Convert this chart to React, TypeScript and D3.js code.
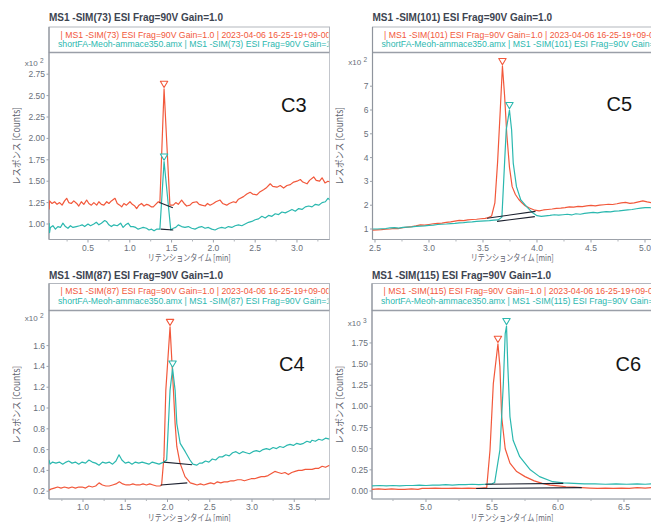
import React from 'react';
import * as d3 from 'd3';

type Pt = [number, number];

// C3 : MS1 -SIM(73), response x10^2
const c3Red: Pt[] = [[0.035,1.17],[0.04,1.27],[0.07,1.24],[0.10,1.26],[0.13,1.23],[0.16,1.25],[0.19,1.22],[0.22,1.27],[0.245,1.30],[0.27,1.25],[0.30,1.24],[0.33,1.27],[0.365,1.24],[0.39,1.21],[0.42,1.26],[0.45,1.23],[0.484,1.28],[0.51,1.24],[0.54,1.22],[0.57,1.25],[0.604,1.22],[0.63,1.26],[0.66,1.23],[0.69,1.22],[0.724,1.26],[0.75,1.24],[0.78,1.27],[0.823,1.30],[0.85,1.24],[0.88,1.22],[0.903,1.20],[0.93,1.24],[0.96,1.22],[1.002,1.26],[1.03,1.23],[1.06,1.21],[1.082,1.18],[1.11,1.22],[1.14,1.24],[1.17,1.21],[1.202,1.23],[1.23,1.22],[1.26,1.20],[1.281,1.20],[1.31,1.23],[1.341,1.26],[1.36,1.25],[1.41,2.58],[1.48,1.22],[1.52,1.22],[1.55,1.25],[1.58,1.23],[1.62,1.28],[1.65,1.24],[1.68,1.21],[1.72,1.22],[1.75,1.25],[1.80,1.26],[1.83,1.23],[1.86,1.22],[1.90,1.21],[1.93,1.24],[1.96,1.22],[2.0,1.24],[2.03,1.26],[2.08,1.28],[2.11,1.24],[2.16,1.22],[2.19,1.24],[2.24,1.26],[2.27,1.25],[2.30,1.29],[2.36,1.32],[2.40,1.35],[2.44,1.37],[2.47,1.35],[2.52,1.34],[2.55,1.37],[2.60,1.40],[2.63,1.42],[2.68,1.47],[2.71,1.44],[2.76,1.43],[2.80,1.45],[2.84,1.42],[2.88,1.45],[2.92,1.46],[2.96,1.49],[3.00,1.50],[3.04,1.52],[3.07,1.49],[3.12,1.47],[3.15,1.51],[3.20,1.55],[3.23,1.51],[3.27,1.50],[3.30,1.54],[3.335,1.48],[3.37,1.50],[3.395,1.49]];
const c3Cyan: Pt[] = [[0.035,1.01],[0.04,0.90],[0.05,0.96],[0.08,0.98],[0.11,0.94],[0.14,0.97],[0.17,0.96],[0.20,1.01],[0.23,0.97],[0.26,0.95],[0.29,0.98],[0.32,0.96],[0.36,0.97],[0.40,0.98],[0.43,0.99],[0.46,0.97],[0.50,1.00],[0.53,0.98],[0.57,1.00],[0.60,1.02],[0.63,0.99],[0.66,1.01],[0.70,1.04],[0.72,1.03],[0.75,0.99],[0.78,0.97],[0.81,0.99],[0.85,0.98],[0.89,1.01],[0.92,0.96],[0.95,0.99],[0.98,1.01],[1.01,0.97],[1.04,0.97],[1.07,0.96],[1.10,0.94],[1.13,0.95],[1.16,0.96],[1.20,0.95],[1.23,0.93],[1.26,0.94],[1.29,0.92],[1.32,0.94],[1.36,0.94],[1.41,1.73],[1.49,0.93],[1.52,0.95],[1.55,0.96],[1.58,0.99],[1.62,0.97],[1.66,0.96],[1.70,0.97],[1.74,0.95],[1.78,0.94],[1.82,0.96],[1.86,0.97],[1.90,0.95],[1.94,0.96],[1.98,0.94],[2.02,0.93],[2.06,0.95],[2.10,0.96],[2.14,0.95],[2.18,0.97],[2.22,0.96],[2.26,0.98],[2.30,0.99],[2.34,0.98],[2.38,1.00],[2.42,1.02],[2.46,1.03],[2.50,1.05],[2.54,1.06],[2.58,1.09],[2.62,1.07],[2.66,1.10],[2.70,1.09],[2.74,1.12],[2.78,1.11],[2.82,1.14],[2.86,1.13],[2.90,1.15],[2.94,1.17],[2.98,1.15],[3.02,1.18],[3.06,1.17],[3.10,1.20],[3.14,1.21],[3.18,1.20],[3.22,1.23],[3.26,1.22],[3.30,1.25],[3.34,1.26],[3.37,1.30],[3.395,1.28]];
const c3RedBase: Pt[] = [[1.355, 1.25], [1.515, 1.19]];
const c3CyanBase: Pt[] = [[1.37, 0.94], [1.52, 0.93]];
const c3XTicks = [0.5, 1.0, 1.5, 2.0, 2.5, 3.0];
const c3YTicks = [1.0, 1.25, 1.5, 1.75, 2.0, 2.25, 2.5, 2.75];

// C5 : MS1 -SIM(101), response x10^2
const c5Red: Pt[] = [[2.477,0.95],[2.52,0.96],[2.56,0.97],[2.60,0.99],[2.64,1.00],[2.68,1.03],[2.72,1.02],[2.76,1.06],[2.80,1.08],[2.84,1.10],[2.88,1.13],[2.92,1.17],[2.96,1.16],[3.00,1.19],[3.04,1.22],[3.08,1.24],[3.12,1.25],[3.16,1.28],[3.20,1.30],[3.24,1.33],[3.28,1.36],[3.32,1.35],[3.36,1.38],[3.40,1.40],[3.44,1.41],[3.48,1.43],[3.52,1.45],[3.55,1.48],[3.58,1.55],[3.61,2.1],[3.635,3.8],[3.66,6.0],[3.68,7.85],[3.70,6.6],[3.72,5.0],[3.745,3.6],[3.77,2.78],[3.80,2.45],[3.83,2.25],[3.86,2.1],[3.89,1.98],[3.93,1.88],[3.98,1.79],[4.02,1.76],[4.06,1.80],[4.10,1.82],[4.14,1.84],[4.18,1.87],[4.22,1.88],[4.26,1.90],[4.30,1.93],[4.34,1.92],[4.38,1.95],[4.42,1.94],[4.46,1.97],[4.50,1.99],[4.54,1.97],[4.58,2.00],[4.62,2.02],[4.66,2.04],[4.70,2.03],[4.74,2.06],[4.78,2.10],[4.82,2.12],[4.86,2.08],[4.90,2.10],[4.94,2.14],[4.98,2.18],[5.02,2.14],[5.065,2.10]];
const c5Cyan: Pt[] = [[2.477,1.00],[2.52,1.00],[2.56,1.01],[2.60,1.02],[2.64,1.05],[2.68,1.06],[2.72,1.04],[2.76,1.07],[2.80,1.08],[2.84,1.09],[2.88,1.11],[2.92,1.12],[2.96,1.13],[3.00,1.15],[3.04,1.16],[3.08,1.19],[3.12,1.20],[3.16,1.21],[3.20,1.23],[3.24,1.24],[3.28,1.26],[3.32,1.27],[3.36,1.29],[3.40,1.30],[3.44,1.32],[3.48,1.33],[3.52,1.34],[3.56,1.35],[3.60,1.37],[3.64,1.38],[3.675,1.5],[3.70,3.8],[3.715,5.16],[3.745,6.0],[3.765,5.16],[3.78,3.77],[3.81,2.78],[3.85,2.22],[3.91,1.91],[3.96,1.68],[4.00,1.56],[4.04,1.53],[4.08,1.55],[4.12,1.57],[4.16,1.60],[4.20,1.58],[4.24,1.60],[4.28,1.62],[4.32,1.59],[4.36,1.64],[4.40,1.62],[4.44,1.66],[4.48,1.68],[4.52,1.70],[4.56,1.68],[4.60,1.71],[4.64,1.73],[4.68,1.72],[4.72,1.75],[4.76,1.76],[4.80,1.78],[4.84,1.80],[4.88,1.82],[4.92,1.85],[4.96,1.88],[5.00,1.90],[5.04,1.90],[5.065,1.89]];
const c5RedBase: Pt[] = [[3.537, 1.45], [3.986, 1.74]];
const c5CyanBase: Pt[] = [[3.63, 1.32], [3.98, 1.52]];
const c5XTicks = [2.5, 3.0, 3.5, 4.0, 4.5, 5.0];
const c5YTicks = [1, 2, 3, 4, 5, 6, 7];

// C4 : MS1 -SIM(87), response x10^2
const c4Red: Pt[] = [[0.598,0.21],[0.62,0.22],[0.66,0.23],[0.70,0.24],[0.74,0.23],[0.78,0.24],[0.83,0.23],[0.87,0.24],[0.91,0.23],[0.95,0.24],[0.99,0.24],[1.03,0.23],[1.07,0.25],[1.11,0.24],[1.15,0.25],[1.19,0.28],[1.23,0.26],[1.27,0.25],[1.31,0.25],[1.35,0.26],[1.39,0.27],[1.43,0.29],[1.47,0.27],[1.51,0.26],[1.55,0.26],[1.59,0.27],[1.63,0.26],[1.67,0.26],[1.71,0.27],[1.75,0.26],[1.79,0.27],[1.83,0.26],[1.87,0.25],[1.91,0.25],[1.93,0.26],[1.958,0.53],[1.98,1.17],[2.03,1.78],[2.07,1.17],[2.09,0.85],[2.11,0.63],[2.148,0.47],[2.207,0.34],[2.27,0.28],[2.31,0.27],[2.35,0.26],[2.39,0.27],[2.43,0.26],[2.47,0.27],[2.51,0.28],[2.55,0.27],[2.59,0.29],[2.63,0.28],[2.67,0.29],[2.71,0.29],[2.75,0.30],[2.79,0.30],[2.83,0.31],[2.87,0.31],[2.91,0.30],[2.95,0.31],[2.99,0.32],[3.03,0.32],[3.07,0.33],[3.11,0.34],[3.15,0.34],[3.19,0.35],[3.23,0.37],[3.27,0.39],[3.31,0.38],[3.35,0.37],[3.39,0.38],[3.43,0.36],[3.47,0.38],[3.51,0.39],[3.55,0.40],[3.59,0.40],[3.63,0.41],[3.67,0.41],[3.71,0.41],[3.75,0.42],[3.79,0.42],[3.83,0.44],[3.87,0.43],[3.917,0.45]];
const c4Cyan: Pt[] = [[0.598,0.50],[0.61,0.46],[0.64,0.48],[0.68,0.47],[0.72,0.48],[0.76,0.46],[0.80,0.48],[0.83,0.49],[0.87,0.47],[0.91,0.48],[0.95,0.46],[0.99,0.48],[1.03,0.47],[1.07,0.50],[1.11,0.48],[1.15,0.47],[1.19,0.45],[1.23,0.48],[1.27,0.47],[1.31,0.48],[1.35,0.46],[1.39,0.49],[1.426,0.55],[1.46,0.50],[1.50,0.47],[1.54,0.48],[1.58,0.46],[1.62,0.48],[1.66,0.47],[1.70,0.48],[1.74,0.47],[1.78,0.46],[1.82,0.48],[1.86,0.47],[1.90,0.46],[1.955,0.48],[1.99,0.50],[2.03,1.17],[2.06,1.38],[2.09,1.17],[2.11,0.85],[2.15,0.66],[2.21,0.58],[2.266,0.50],[2.30,0.46],[2.345,0.45],[2.38,0.47],[2.41,0.47],[2.45,0.49],[2.49,0.48],[2.53,0.51],[2.57,0.50],[2.61,0.53],[2.65,0.53],[2.69,0.55],[2.73,0.54],[2.77,0.57],[2.81,0.58],[2.85,0.56],[2.89,0.58],[2.93,0.57],[2.97,0.56],[3.01,0.58],[3.05,0.59],[3.09,0.58],[3.13,0.60],[3.17,0.61],[3.21,0.60],[3.25,0.62],[3.29,0.61],[3.33,0.63],[3.37,0.62],[3.41,0.64],[3.45,0.65],[3.49,0.64],[3.53,0.66],[3.57,0.65],[3.61,0.66],[3.65,0.68],[3.69,0.67],[3.71,0.69],[3.75,0.68],[3.79,0.70],[3.83,0.69],[3.87,0.71],[3.917,0.70]];
const c4RedBase: Pt[] = [[1.92, 0.26], [2.234, 0.28]];
const c4CyanBase: Pt[] = [[1.955, 0.48], [2.29, 0.455]];
const c4XTicks = [1.0, 1.5, 2.0, 2.5, 3.0, 3.5];
const c4YTicks = [0.2, 0.4, 0.6, 0.8, 1.0, 1.2, 1.4, 1.6];

// C6 : MS1 -SIM(115), response x10^3
const c6Red: Pt[] = [[4.591,0.02],[4.64,0.025],[4.69,0.02],[4.74,0.025],[4.79,0.02],[4.84,0.02],[4.89,0.025],[4.94,0.02],[4.97,0.03],[5.02,0.03],[5.07,0.035],[5.12,0.03],[5.17,0.03],[5.22,0.035],[5.27,0.03],[5.32,0.035],[5.37,0.03],[5.42,0.035],[5.46,0.04],[5.485,0.485],[5.51,1.27],[5.545,1.74],[5.56,1.47],[5.573,0.88],[5.60,0.50],[5.636,0.33],[5.687,0.23],[5.75,0.17],[5.82,0.12],[5.88,0.09],[5.94,0.07],[6.00,0.06],[6.06,0.05],[6.12,0.045],[6.18,0.04],[6.24,0.035],[6.30,0.03],[6.36,0.035],[6.42,0.03],[6.48,0.035],[6.54,0.03],[6.60,0.04],[6.66,0.035],[6.712,0.04]];
const c6Cyan: Pt[] = [[4.591,0.06],[4.65,0.065],[4.70,0.06],[4.75,0.065],[4.80,0.06],[4.85,0.065],[4.90,0.065],[4.95,0.07],[5.00,0.065],[5.05,0.07],[5.10,0.07],[5.15,0.075],[5.20,0.07],[5.25,0.075],[5.30,0.075],[5.35,0.08],[5.40,0.075],[5.45,0.08],[5.50,0.085],[5.52,0.10],[5.56,0.485],[5.586,1.27],[5.60,1.86],[5.61,1.95],[5.62,1.47],[5.636,0.88],[5.66,0.60],[5.71,0.405],[5.79,0.25],[5.86,0.17],[5.96,0.11],[6.04,0.095],[6.12,0.09],[6.20,0.085],[6.28,0.085],[6.36,0.08],[6.44,0.085],[6.52,0.08],[6.60,0.085],[6.66,0.08],[6.712,0.085]];
const c6RedBase: Pt[] = [[5.38, 0.03], [6.18, 0.04]];
const c6CyanBase: Pt[] = [[5.45, 0.08], [6.04, 0.09]];
const c6XTicks = [5.0, 5.5, 6.0, 6.5];
const c6YTicks = [0, 0.25, 0.5, 0.75, 1.0, 1.25, 1.5, 1.75];

const RED = '#f2583b';
const CYAN = '#2bb8af';
const LATIN = "'Liberation Sans', Arial, sans-serif";
const JP = "'Noto Sans CJK JP', sans-serif";

const panels = [
  { id: 'c3', sim: 73, mark: 'C3', exp: '2', red: c3Red, cyan: c3Cyan, redBase: c3RedBase, cyanBase: c3CyanBase,
    xTicks: c3XTicks, yTicks: c3YTicks, yFmt: '.2f', xDomain: [0.0335, 3.389], yDomain: [0.819, 3.0035],
    left: 49, right: 329.5, top: 27, plotTop: 52.5, bottom: 239.5, titleY: 20.5, expY: 66, markX: 281, markY: 111.5 },
  { id: 'c5', sim: 101, mark: 'C5', exp: '2', red: c5Red, cyan: c5Cyan, redBase: c5RedBase, cyanBase: c5CyanBase,
    xTicks: c5XTicks, yTicks: c5YTicks, yFmt: 'd', xDomain: [2.4769, 5.0648], yDomain: [0.559, 8.416],
    left: 372.5, right: 652, top: 27, plotTop: 52.5, bottom: 239.5, titleY: 20.5, expY: 65, markX: 606.5, markY: 111 },
  { id: 'c4', sim: 87, mark: 'C4', exp: '2', red: c4Red, cyan: c4Cyan, redBase: c4RedBase, cyanBase: c4CyanBase,
    xTicks: c4XTicks, yTicks: c4YTicks, yFmt: '.1f', xDomain: [0.5976, 3.917], yDomain: [0.125, 1.9375],
    left: 49, right: 329.5, top: 283.5, plotTop: 310.5, bottom: 499, titleY: 279, expY: 320.5, markX: 279, markY: 371 },
  { id: 'c6', sim: 115, mark: 'C6', exp: '3', red: c6Red, cyan: c6Cyan, redBase: c6RedBase, cyanBase: c6CyanBase,
    xTicks: c6XTicks, yTicks: c6YTicks, yFmt: '.2f', xDomain: [4.591, 6.712], yDomain: [-0.0946, 2.1336],
    left: 372, right: 652, top: 283.5, plotTop: 310.5, bottom: 499, titleY: 279, expY: 325.5, markX: 615.5, markY: 371 },
];

const Panel = ({ p }: { p: any }) => {
  const x = d3.scaleLinear().domain(p.xDomain).range([p.left, p.right]);
  const y = d3.scaleLinear().domain(p.yDomain).range([p.bottom, p.plotTop]);
  const line = d3.line<Pt>().x(d => x(d[0])).y(d => y(d[1]));
  const fmtY = d3.format(p.yFmt);
  const step = p.xTicks[1] - p.xTicks[0];
  const minor = [p.xTicks[0] - step / 2, ...p.xTicks.map((t: number) => t + step / 2)]
    .filter((t: number) => t > p.xDomain[0] && t < p.xDomain[1]);
  const cx = (p.left + p.right) / 2;
  const cy = (p.plotTop + p.bottom) / 2;

  const marker = (s: Pt[], color: string) => {
    const pk = d3.greatest(s, d => d[1]) as Pt;
    const px = x(pk[0]), py = y(pk[1]);
    return (
      <path d={`M${px - 3.7},${py - 7.5}L${px + 3.7},${py - 7.5}L${px},${py - 1.3}Z`}
        fill="white" stroke={color} strokeWidth={1.1} />
    );
  };

  return (
    <g>
      <defs>
        <clipPath id={`plot-${p.id}`}>
          <rect x={p.left} y={p.plotTop} width={p.right - p.left} height={p.bottom - p.plotTop} />
        </clipPath>
        <clipPath id={`leg-${p.id}`}>
          <rect x={p.left} y={p.top} width={p.right - p.left - 1} height={p.plotTop - p.top} />
        </clipPath>
      </defs>

      <text x={p.left} y={p.titleY} fontFamily={LATIN} fontSize={10} fontWeight="bold" fill="#3d4450">
        {`MS1 -SIM(${p.sim}) ESI Frag=90V Gain=1.0`}
      </text>

      {/* legend box */}
      <rect x={p.left} y={p.top} width={p.right - p.left} height={p.plotTop - p.top}
        fill="white" stroke="#b3b7be" strokeWidth={1} />
      <g clipPath={`url(#leg-${p.id})`} fontFamily={LATIN} fontSize={8.7}>
        <text x={p.left + 11.5} y={p.top + 10.5} fill={RED}>
          {`| MS1 -SIM(${p.sim}) ESI Frag=90V Gain=1.0 | 2023-04-06 16-25-19+09-00-`}
        </text>
        <text x={p.left + 9} y={p.top + 20} fill={CYAN}>
          {`shortFA-Meoh-ammace350.amx | MS1 -SIM(${p.sim}) ESI Frag=90V Gain=1.0`}
        </text>
      </g>

      {/* plot frame */}
      <rect x={p.left} y={p.plotTop} width={p.right - p.left} height={p.bottom - p.plotTop}
        fill="white" stroke="#c3c6cc" strokeWidth={1} />
      <line x1={p.left} x2={p.right} y1={p.plotTop} y2={p.plotTop} stroke="#9a9fa8" strokeWidth={1.6} />
      <line x1={p.left} x2={p.left} y1={p.top} y2={p.bottom} stroke="#8f949d" strokeWidth={1.2} />
      <line x1={p.left} x2={p.right} y1={p.bottom} y2={p.bottom} stroke="#9ca1a9" strokeWidth={1.2} />

      {/* y axis */}
      <g fontFamily={LATIN} fontSize={8.5} fill="#6a707a" textAnchor="end">
        {p.yTicks.map((t: number) => (
          <g key={t}>
            <line x1={p.left - 2.5} x2={p.left} y1={y(t)} y2={y(t)} stroke="#9ca1a9" />
            <text x={p.left - 4} y={y(t) + 3}>{fmtY(t)}</text>
          </g>
        ))}
        <text x={p.left - 5.5} y={p.expY} fontSize={8}>
          x10 <tspan fontSize={6.5} dy={-3}>{p.exp}</tspan>
        </text>
      </g>

      {/* x axis */}
      <g fontFamily={LATIN} fontSize={8.5} fill="#6a707a" textAnchor="middle">
        {p.xTicks.map((t: number) => (
          <g key={t}>
            <line x1={x(t)} x2={x(t)} y1={p.bottom} y2={p.bottom + 3} stroke="#9ca1a9" />
            <text x={x(t)} y={p.bottom + 11}>{d3.format('.1f')(t)}</text>
          </g>
        ))}
        {minor.map((t: number) => (
          <line key={'m' + t} x1={x(t)} x2={x(t)} y1={p.bottom} y2={p.bottom + 2} stroke="#b0b4ba" />
        ))}
      </g>

      <text x={cx} y={p.bottom + 21.5} textAnchor="middle" fontFamily={JP} fontSize={9} fill="#5f6570"
        textLength={83} lengthAdjust="spacingAndGlyphs">リテンションタイム [min]</text>
      <text transform={`translate(${p.left - 33.5},${cy}) rotate(-90)`} textAnchor="middle"
        dominantBaseline="central" fontFamily={JP} fontSize={9.5} fill="#5f6570"
        textLength={78} lengthAdjust="spacingAndGlyphs">レスポンス [Counts]</text>

      {/* traces */}
      <g clipPath={`url(#plot-${p.id})`} fill="none" strokeLinejoin="round">
        <path d={line(p.red) || ''} stroke={RED} strokeWidth={1.2} />
        <path d={line(p.cyan) || ''} stroke={CYAN} strokeWidth={1.2} />
        <path d={line(p.redBase) || ''} stroke="#1d2230" strokeWidth={1.1} />
        <path d={line(p.cyanBase) || ''} stroke="#1d2230" strokeWidth={1.1} />
        {marker(p.red, RED)}
        {marker(p.cyan, CYAN)}
      </g>

      <text x={p.markX} y={p.markY} fontFamily={LATIN} fontSize={20} fill="#151515">{p.mark}</text>
    </g>
  );
};

export default function App() {
  return (
    <svg width={651} height={522} style={{ position: 'absolute', left: 0, top: 0, background: 'white' }}>
      <rect width={651} height={522} fill="white" />
      {panels.map(p => <Panel key={p.id} p={p} />)}
    </svg>
  );
}
